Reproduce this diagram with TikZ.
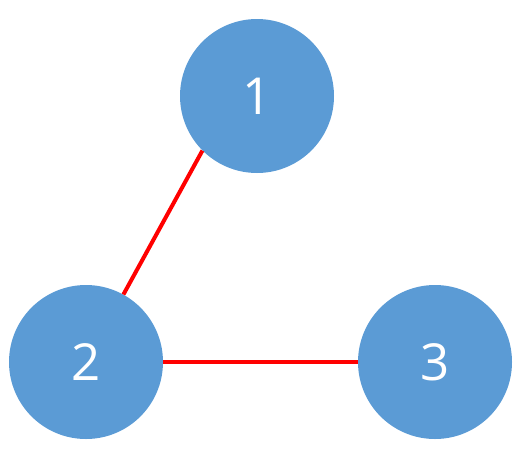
\documentclass[tikz,border=0pt]{standalone}
\usepackage{fontspec}
\setmainfont{Open Sans}
\definecolor{nodeblue}{HTML}{5B9BD5}
\definecolor{edgered}{HTML}{FF0000}
\tikzset{
  vertex/.style={circle, fill=nodeblue, draw=none, minimum size=154pt, inner sep=0pt, text=white, font=\fontsize{51}{56}\selectfont},
  edge/.style={draw=edgered, line width=4pt}
}
\begin{document}
\begin{tikzpicture}[x=1pt,y=-1pt]
\useasboundingbox (0,0) rectangle (532,453);
\node[vertex] (n1) at (257,96) {1};
\node[vertex] (n2) at (86,362) {2};
\node[vertex] (n3) at (435,362) {3};
\draw[edge] (n1.225.5) -- (n2.61);
\draw[edge] (n2) -- (n3);
\end{tikzpicture}
\end{document}
